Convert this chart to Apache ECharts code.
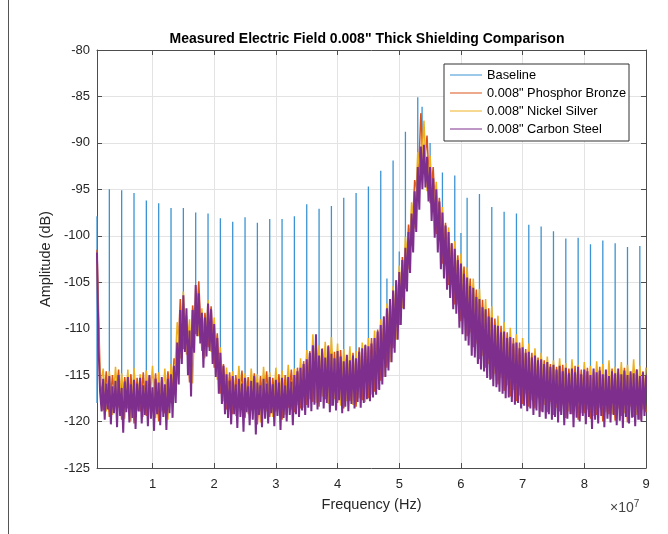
<!DOCTYPE html>
<html><head><meta charset="utf-8">
<script src="https://cdn.jsdelivr.net/npm/echarts@6/dist/echarts.min.js"></script>
<style>html,body{margin:0;padding:0;background:#fff}#c{width:668px;height:534px}</style>
</head><body><div id="c"></div>
<script>
// Frequency grids in MHz (axis shows units of 1e7 Hz)
var freqMHz = [1,1.5,2,2.5,3,3.5,4,4.5,5,5.5,6,6.5,7,7.5,8,8.5,9,9.5,10,10.5,11,11.5,12,12.5,13,13.5,14,14.5,15,15.5,16,16.5,17,17.5,18,18.5,19,19.5,20,20.5,21,21.5,22,22.5,23,23.5,24,24.5,25,25.5,26,26.5,27,27.5,28,28.5,29,29.5,30,30.5,31,31.5,32,32.5,33,33.5,34,34.5,35,35.5,36,36.5,37,37.5,38,38.5,39,39.5,40,40.5,41,41.5,42,42.5,43,43.5,44,44.5,45,45.5,46,46.5,47,47.5,48,48.5,49,49.5,50,50.5,51,51.5,52,52.5,53,53.5,54,54.5,55,55.5,56,56.5,57,57.5,58,58.5,59,59.5,60,60.5,61,61.5,62,62.5,63,63.5,64,64.5,65,65.5,66,66.5,67,67.5,68,68.5,69,69.5,70,70.5,71,71.5,72,72.5,73,73.5,74,74.5,75,75.5,76,76.5,77,77.5,78,78.5,79,79.5,80,80.5,81,81.5,82,82.5,83,83.5,84,84.5,85,85.5,86,86.5,87,87.5,88,88.5,89,89.5,90];
var freqFineMHz = [1,1.25,1.5,1.75,2,2.25,2.5,2.75,3,3.25,3.5,3.75,4,4.25,4.5,4.75,5,5.25,5.5,5.75,6,6.25,6.5,6.75,7,7.25,7.5,7.75,8,8.25,8.5,8.75,9,9.25,9.5,9.75,10,10.25,10.5,10.75,11,11.25,11.5,11.75,12,12.25,12.5,12.75,13,13.25,13.5,13.75,14,14.25,14.5,14.75,15,15.25,15.5,15.75,16,16.25,16.5,16.75,17,17.25,17.5,17.75,18,18.25,18.5,18.75,19,19.25,19.5,19.75,20,20.25,20.5,20.75,21,21.25,21.5,21.75,22,22.25,22.5,22.75,23,23.25,23.5,23.75,24,24.25,24.5,24.75,25,25.25,25.5,25.75,26,26.25,26.5,26.75,27,27.25,27.5,27.75,28,28.25,28.5,28.75,29,29.25,29.5,29.75,30,30.25,30.5,30.75,31,31.25,31.5,31.75,32,32.25,32.5,32.75,33,33.25,33.5,33.75,34,34.25,34.5,34.75,35,35.25,35.5,35.75,36,36.25,36.5,36.75,37,37.25,37.5,37.75,38,38.25,38.5,38.75,39,39.25,39.5,39.75,40,40.25,40.5,40.75,41,41.25,41.5,41.75,42,42.25,42.5,42.75,43,43.25,43.5,43.75,44,44.25,44.5,44.75,45,45.25,45.5,45.75,46,46.25,46.5,46.75,47,47.25,47.5,47.75,48,48.25,48.5,48.75,49,49.25,49.5,49.75,50,50.25,50.5,50.75,51,51.25,51.5,51.75,52,52.25,52.5,52.75,53,53.25,53.5,53.75,54,54.25,54.5,54.75,55,55.25,55.5,55.75,56,56.25,56.5,56.75,57,57.25,57.5,57.75,58,58.25,58.5,58.75,59,59.25,59.5,59.75,60,60.25,60.5,60.75,61,61.25,61.5,61.75,62,62.25,62.5,62.75,63,63.25,63.5,63.75,64,64.25,64.5,64.75,65,65.25,65.5,65.75,66,66.25,66.5,66.75,67,67.25,67.5,67.75,68,68.25,68.5,68.75,69,69.25,69.5,69.75,70,70.25,70.5,70.75,71,71.25,71.5,71.75,72,72.25,72.5,72.75,73,73.25,73.5,73.75,74,74.25,74.5,74.75,75,75.25,75.5,75.75,76,76.25,76.5,76.75,77,77.25,77.5,77.75,78,78.25,78.5,78.75,79,79.25,79.5,79.75,80,80.25,80.5,80.75,81,81.25,81.5,81.75,82,82.25,82.5,82.75,83,83.25,83.5,83.75,84,84.25,84.5,84.75,85,85.25,85.5,85.75,86,86.25,86.5,86.75,87,87.25,87.5,87.75,88,88.25,88.5,88.75,89,89.25,89.5,89.75,90];

var phosphorBronze = [-101.5,-114.8,-118.8,-114.6,-119.5,-115.0,-118.2,-114.4,-119.8,-115.2,-118.6,-114.9,-120.2,-115.3,-118.9,-114.7,-119.4,-115.1,-118.5,-114.8,-120.0,-115.4,-119.1,-114.6,-118.0,-113.2,-114.5,-106.8,-112.2,-108.6,-115.8,-107.5,-110.6,-104.9,-112.4,-108.3,-112.0,-107.6,-114.2,-110.5,-117.0,-113.8,-118.7,-114.7,-119.2,-115.0,-118.4,-114.5,-119.6,-115.2,-118.8,-114.8,-120.3,-115.1,-118.6,-114.6,-119.5,-115.3,-118.9,-114.9,-119.8,-115.0,-118.5,-114.4,-119.0,-114.2,-118.6,-113.5,-118.2,-112.4,-117.9,-111.3,-118.4,-112.1,-117.6,-111.8,-118.3,-112.5,-118.0,-112.3,-118.6,-112.9,-117.8,-112.6,-118.4,-112.0,-117.7,-111.7,-117.5,-111.0,-116.8,-110.1,-115.6,-108.7,-114.2,-106.9,-112.1,-104.8,-109.6,-102.3,-105.7,-98.8,-101.0,-94.0,-95.6,-86.8,-93.0,-89.2,-96.5,-92.6,-99.8,-95.9,-103.0,-98.6,-105.3,-100.8,-107.4,-102.1,-109.2,-103.3,-110.8,-104.6,-112.0,-105.8,-113.3,-106.9,-114.2,-107.8,-115.4,-108.9,-116.0,-109.7,-116.7,-110.4,-117.3,-111.0,-117.8,-111.5,-118.1,-112.2,-118.4,-112.6,-118.6,-113.1,-118.9,-113.4,-119.0,-113.8,-119.3,-114.1,-118.9,-113.9,-119.6,-114.3,-119.2,-114.0,-119.8,-114.4,-119.1,-114.2,-119.7,-114.6,-119.3,-114.1,-120.0,-114.5,-119.2,-114.3,-119.9,-114.7,-119.4,-114.2,-120.1,-114.8,-119.5,-114.4,-119.8,-114.6,-119.0];

var nickelSilver = [-103.0,-116.5,-114.3,-118.9,-114.6,-119.3,-114.1,-118.5,-114.8,-119.7,-114.4,-120.0,-114.2,-118.8,-114.9,-119.5,-114.5,-118.6,-114.0,-119.6,-114.7,-118.9,-114.3,-119.8,-113.8,-116.4,-109.3,-113.2,-106.0,-112.8,-109.0,-115.9,-105.5,-110.8,-107.8,-113.2,-106.9,-112.5,-108.8,-115.5,-112.0,-117.8,-114.2,-118.7,-114.6,-119.4,-114.0,-118.6,-114.8,-119.2,-114.3,-118.5,-114.9,-120.1,-114.1,-118.9,-114.7,-119.5,-114.2,-118.6,-114.5,-119.3,-113.9,-118.7,-114.3,-118.2,-113.2,-118.5,-112.3,-117.6,-110.6,-118.0,-111.8,-117.3,-111.4,-118.1,-110.9,-117.6,-111.6,-118.3,-112.2,-117.8,-111.9,-118.2,-112.4,-117.5,-111.5,-117.9,-111.0,-117.1,-110.2,-116.5,-109.0,-115.2,-107.3,-113.6,-105.4,-111.2,-103.2,-107.8,-100.1,-103.6,-96.4,-99.2,-91.0,-94.0,-87.6,-95.2,-91.4,-97.5,-94.2,-100.6,-96.9,-103.2,-99.1,-105.3,-100.6,-107.4,-101.9,-108.9,-103.4,-110.4,-104.6,-111.6,-105.7,-112.9,-106.8,-113.8,-107.6,-114.9,-108.6,-115.3,-109.3,-116.1,-109.9,-116.6,-110.6,-117.2,-111.0,-117.0,-111.6,-117.7,-112.1,-117.5,-112.6,-118.2,-113.0,-117.9,-113.4,-118.5,-113.2,-118.2,-113.7,-118.9,-113.3,-118.4,-113.9,-119.1,-113.6,-118.7,-114.0,-119.4,-113.5,-118.5,-113.8,-119.0,-113.4,-119.2,-114.1,-118.6,-113.6,-119.1,-113.9,-118.4,-113.3,-119.3,-114.0,-118.7,-114.2];

var carbonSteel = [-101.8,-112.0,-116.8,-118.9,
-115.4,-119.8,-115.9,-118.7,-115.1,-120.3,-116.2,-119.1,-115.6,-120.6,-115.0,-119.4,-116.4,-121.2,-115.7,-119.0,-115.2,-120.1,-116.0,-119.6,-115.5,-120.8,-115.9,-118.9,-115.3,-120.2,-116.1,-119.3,-115.6,-120.5,-115.0,-119.7,-116.3,-121.0,-115.4,-119.2,-115.8,-120.4,-115.2,-119.5,-116.0,-120.9,-115.4,-119.1,-114.9,-119.6,
-114.0,-118.0,-111.5,-116.0,-108.0,-113.8,-106.4,-112.5,-107.8,-115.0,-110.2,-117.3,-108.0,-112.6,-105.3,-110.8,-106.2,-111.6,-108.3,-114.2,-108.8,-113.0,-107.3,-112.4,-107.9,-113.8,-109.5,-115.2,-111.0,-117.0,-112.6,-118.1,-114.0,-119.2,-114.9,
-119.6,-115.6,-120.3,-115.1,-119.2,-116.0,-120.7,-115.4,-119.5,-115.9,-121.1,-115.3,-119.0,-116.2,-120.4,-115.6,-119.8,-115.1,-121.4,-115.8,-119.3,-116.1,-120.6,-115.4,-119.7,-115.9,-120.2,-115.2,-119.1,-116.0,-120.5,-115.5,-119.4,-115.8,-120.9,-115.3,-119.6,-116.1,-120.0,-115.2,-119.3,-115.7,-120.4,-115.0,
-119.2,-114.6,-119.5,-114.2,-118.8,-113.8,-119.3,-113.3,-118.5,-112.6,-118.9,-111.8,-118.2,-110.6,-118.7,-112.9,-117.9,-112.2,-118.6,-113.1,-118.0,-111.9,-119.0,-112.7,-118.3,-113.2,-118.8,-112.4,-117.7,-113.0,-119.1,-113.5,-118.4,-112.8,-118.9,-113.4,-118.1,-112.9,-118.6,-113.2,-117.9,-112.5,-118.5,-112.1,-118.0,-111.8,-117.6,-111.9,
-117.8,-111.6,-117.4,-111.0,-117.1,-110.3,-116.6,-109.6,-116.0,-108.7,-115.2,-107.8,-114.5,-106.8,-113.6,-105.9,-112.6,-104.8,-111.2,-103.9,-109.6,-102.6,-107.9,-101.3,-106.0,-99.6,-104.0,-97.6,-101.8,-95.2,-99.6,-92.6,-97.2,-90.4,-95.0,-90.2,-94.8,-91.5,-96.3,-92.6,-98.4,-93.8,-100.2,-95.0,-101.8,-96.3,-103.6,-97.5,
-104.6,-98.9,-105.8,-99.6,-106.7,-100.8,-107.9,-101.4,-108.4,-102.6,-109.9,-103.0,-110.6,-104.1,-111.3,-104.5,-111.8,-105.4,-112.9,-105.6,-113.1,-106.6,-113.8,-106.8,-114.4,-107.7,-114.6,-107.9,-115.3,-108.7,-115.5,-108.8,-116.2,-109.6,-116.3,-109.7,-116.8,-110.4,-117.0,-110.3,-117.5,-111.0,-117.4,-110.9,-117.9,-111.6,-118.2,-111.5,-118.0,-112.1,-118.6,-112.0,-118.3,-112.6,-118.9,-112.5,-118.6,-113.1,-119.3,-112.9,-118.8,-113.4,-119.5,-113.3,-119.0,-113.8,-119.7,-113.6,-119.2,-114.1,-119.8,-113.9,
-119.5,-114.4,-120.1,-114.0,-119.3,-114.6,-120.4,-114.2,-119.7,-114.8,-119.2,-114.3,-120.6,-114.7,-119.6,-114.1,-120.0,-114.9,-119.4,-114.4,-120.3,-114.6,-119.5,-115.0,-120.8,-114.3,-119.8,-114.7,-120.2,-114.5,-119.4,-114.9,-120.6,-114.4,-119.7,-115.1,-120.1,-114.6,-119.3,-114.8,-120.4,-114.3,-119.9,-114.9,-120.7,-114.5,-119.5,-115.0,-120.2,-114.6,-119.6,-114.8,-120.5,-114.4,-119.8,-115.1,-120.0,-114.7,-119.4,-115.0];

// Baseline: harmonic spikes (MHz), spike tops and level where each spike leaves the noise (dB)
var baselineSpikeMHz = [1,3,5,7,9,11,13,15,17,19,21,23,25,27,29,31,33,35,37,39,41,43,45,47,48,49,50,51,53,53.7,55,57,59,60,61,63,65,67,69,71,73,75,77,79,81,83,85,87,89];
var baselineSpikeTop = [-97.9,-95.0,-95.1,-95.4,-96.2,-96.5,-97.0,-97.0,-97.5,-97.6,-98.1,-98.5,-98.0,-98.6,-98.2,-98.2,-97.9,-96.6,-97.1,-96.8,-95.9,-95.4,-94.7,-93.0,-104.6,-91.9,-101.7,-88.8,-85.1,-86.1,-90.0,-93.2,-93.5,-99.7,-95.9,-95.5,-96.9,-97.4,-97.6,-98.8,-99.0,-99.5,-100.3,-100.2,-100.9,-100.5,-100.8,-101.2,-101.1];
var baselineFloor = [-118,-118,-118,-118,-118,-118,-118,-110,-108,-110,-116,-118,-118,-118,-118,-118,-117.5,-116,-116,-116,-116,-116,-115,-113,-111,-109,-106,-103,-94,-92.5,-95,-101,-105,-107,-108,-110.5,-112.5,-114,-115,-115.5,-116,-116.5,-117,-117,-117,-117,-117,-117,-117];

var xTickMHz = [10,20,30,40,50,60,70,80,90];
var xTickLabels = ['1','2','3','4','5','6','7','8','9'];
var seriesNames = ['Baseline','0.008" Phosphor Bronze','0.008" Nickel Silver','0.008" Carbon Steel'];
var seriesColors = ['#3b93d3','#D95319','#EDB120','#7E2F8E'];

var baselineData = [];
baselineSpikeMHz.forEach(function(f,i){
  baselineData.push([f, baselineFloor[i]], [f, baselineSpikeTop[i]], [f, '-']);
});
function pair(xs, arr){ return xs.map(function(f,i){ return [f, arr[i]]; }); }

var FONT = '"Liberation Sans", Arial, Helvetica, sans-serif';
var axisCol = '#4d4d4d';
var gridCol = '#e3e3e3';
var chart = echarts.init(document.getElementById('c'), null, {renderer:'canvas'});
function lineSeries(name, data, color, w){
  return {name:name, type:'line', data:data, showSymbol:false, symbol:'none', connectNulls:false,
    lineStyle:{color:color, width:w, join:'bevel'}, itemStyle:{color:color}, emphasis:{disabled:true}, z:2};
}
chart.setOption({
  animation:false,
  backgroundColor:'#fff',
  title:{text:'Measured Electric Field 0.008" Thick Shielding Comparison', left:362, top:27, textAlign:'center',
    textStyle:{fontFamily:FONT, fontSize:14, fontWeight:'bold', color:'#000'}},
  grid:{left:97, right:22, top:50, bottom:66, show:false},
  legend:{data:seriesNames, left:444, top:64, orient:'vertical', itemWidth:32, itemHeight:1, itemGap:4,
    padding:[4,3,5,6], backgroundColor:'#fff', borderColor:'#333', borderWidth:1, borderRadius:0,
    textStyle:{fontFamily:FONT, fontSize:12.8, color:'#000', lineHeight:14}, icon:'rect'},
  xAxis:[
    {type:'value', min:1, max:90, position:'bottom',
     name:'Frequency (Hz)', nameLocation:'middle', nameGap:29,
     nameTextStyle:{fontFamily:FONT, fontSize:14.5, color:'#262626'},
     axisLine:{show:true, lineStyle:{color:axisCol}},
     axisTick:{show:true, inside:true, length:5, customValues:xTickMHz, lineStyle:{color:axisCol}},
     axisLabel:{customValues:xTickMHz, margin:10, fontFamily:FONT, fontSize:13, color:'#262626',
       formatter:function(v){ var i = xTickMHz.indexOf(v); return i>=0 ? xTickLabels[i] : ''; }},
     splitLine:{show:true, lineStyle:{color:gridCol}}},
    {type:'value', min:1, max:90, position:'top',
     axisLine:{show:true, lineStyle:{color:axisCol}},
     axisTick:{show:true, inside:true, length:5, customValues:xTickMHz, lineStyle:{color:axisCol}},
     axisLabel:{show:false}, splitLine:{show:false}}
  ],
  yAxis:[
    {type:'value', min:-125, max:-80, interval:5, position:'left',
     name:'Amplitude (dB)', nameLocation:'middle', nameGap:42,
     nameTextStyle:{fontFamily:FONT, fontSize:14.5, color:'#262626'},
     axisLine:{show:true, lineStyle:{color:axisCol}},
     axisTick:{show:true, inside:true, length:5, lineStyle:{color:axisCol}},
     axisLabel:{margin:7, fontFamily:FONT, fontSize:13, color:'#262626'},
     splitLine:{show:true, lineStyle:{color:gridCol}}},
    {type:'value', min:-125, max:-80, interval:5, position:'right',
     axisLine:{show:true, lineStyle:{color:axisCol}},
     axisTick:{show:true, inside:true, length:5, lineStyle:{color:axisCol}},
     axisLabel:{show:false}, splitLine:{show:false}}
  ],
  series:[
    lineSeries(seriesNames[0], baselineData, seriesColors[0], 1.3),
    lineSeries(seriesNames[1], pair(freqMHz, phosphorBronze), seriesColors[1], 1.5),
    lineSeries(seriesNames[2], pair(freqMHz, nickelSilver), seriesColors[2], 1.5),
    lineSeries(seriesNames[3], pair(freqFineMHz, carbonSteel), seriesColors[3], 2)
  ],
  graphic:[
    {type:'line', shape:{x1:8.5, y1:0, x2:8.5, y2:534}, style:{stroke:'#555', lineWidth:1}},
    {type:'text', left:610, top:499, style:{rich:{a:{fontFamily:FONT, fontSize:14, fill:'#444'}, b:{fontFamily:FONT, fontSize:10, fill:'#444', verticalAlign:'top', padding:[0,0,8,0]}}, text:'{a|×10}{b|7}'}}
  ]
});
</script></body></html>
